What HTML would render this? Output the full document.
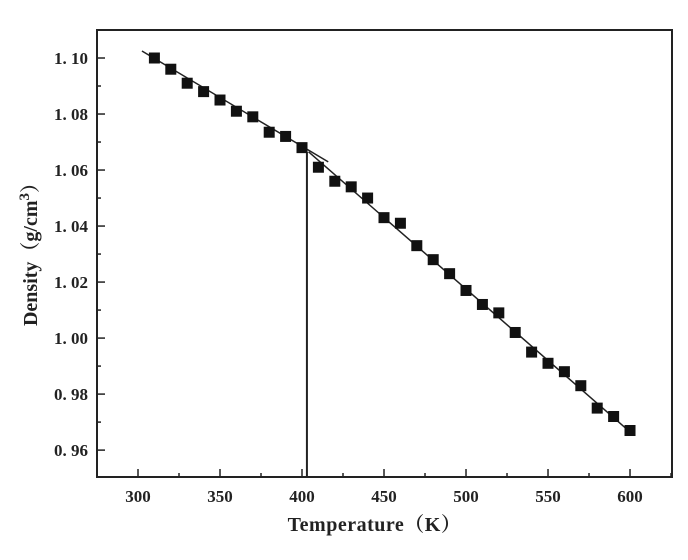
<!DOCTYPE html>
<html><head><meta charset="utf-8"><style>
html,body{margin:0;padding:0;background:#fff;}
svg text{font-family:"Liberation Serif","Noto Serif CJK SC",serif;font-weight:bold;fill:#222;}
</style></head><body>
<svg id="chart" width="688" height="555" xmlns="http://www.w3.org/2000/svg">
<g id="g"></g>
</svg>
<script>
const temperatures=[310,320,330,340,350,360,370,380,390,400,410,420,430,440,450,460,470,480,490,500,510,520,530,540,550,560,570,580,590,600];
const densities=[1.100,1.096,1.091,1.088,1.085,1.081,1.079,1.0735,1.072,1.068,1.061,1.056,1.054,1.050,1.043,1.041,1.033,1.028,1.023,1.017,1.012,1.009,1.002,0.995,0.991,0.988,0.983,0.975,0.972,0.967];
const fit1=[[302.4,1.1025],[416,1.0629]];
const fit2=[[404,1.0665],[600,0.9665]];
const transitionT=[403,1.0665];
const xTicks=[300,350,400,450,500,550,600];
const yTicks=[0.96,0.98,1.00,1.02,1.04,1.06,1.08,1.10];
const yTickLabels=["0. 96","0. 98","1. 00","1. 02","1. 04","1. 06","1. 08","1. 10"];

const L=97,R=672,T=30,B=477;
const xMin=275,xMax=625.6,yMin=0.9504,yMax=1.11;
const X=v=>L+(v-xMin)/(xMax-xMin)*(R-L);
const Y=v=>B-(v-yMin)/(yMax-yMin)*(B-T);
const g=document.getElementById('g');
const NS='http://www.w3.org/2000/svg';
function mk(tag,attrs,parent){const e=document.createElementNS(NS,tag);for(const k in attrs)e.setAttribute(k,attrs[k]);(parent||g).appendChild(e);return e;}

let e=mk('rect',{x:L,y:T,width:R-L,height:B-T,fill:'none',stroke:'#222','stroke-width':2});



xTicks.forEach((t,i)=>{
  let tk=mk('line',{x1:X(t),x2:X(t),y1:B,y2:B-8,stroke:'#222','stroke-width':1.5});
  
  
  let m=mk('line',{x1:X(t+25),x2:X(t+25),y1:B,y2:B-4,stroke:'#222','stroke-width':1.5});
  
  
  let lb=mk('text',{x:X(t),y:B+25,'text-anchor':'middle','font-size':17});
  lb.textContent=t;
  
  
});
yTicks.forEach((t,i)=>{
  let tk=mk('line',{x1:L,x2:L+8,y1:Y(t),y2:Y(t),stroke:'#222','stroke-width':1.5});
  
  
  let m=mk('line',{x1:L,x2:L+4,y1:Y(t+0.01),y2:Y(t+0.01),stroke:'#222','stroke-width':1.5});
  
  
  let lb=mk('text',{x:L-9,y:Y(t)+6,'text-anchor':'end','font-size':17});
  lb.textContent=yTickLabels[i];
  
  
});
[fit1,fit2].forEach((f,i)=>{
  let l=mk('line',{x1:X(f[0][0]),y1:Y(f[0][1]),x2:X(f[1][0]),y2:Y(f[1][1]),stroke:'#222','stroke-width':1.5});
  
  
});
let v=mk('line',{x1:X(transitionT[0]),y1:Y(transitionT[1]),x2:X(transitionT[0]),y2:B,stroke:'#222','stroke-width':2});


temperatures.forEach((t,i)=>{
  let p=mk('rect',{x:X(t)-5.5,y:Y(densities[i])-5.5,width:11,height:11,fill:'#111'});
  
  
});
let xt=mk('text',{x:(L+R)/2-10,y:531,'text-anchor':'middle','font-size':20,'letter-spacing':'0.5'});
xt.textContent='Temperature（K）';


let yt=mk('text',{x:0,y:0,'text-anchor':'middle','font-size':20,transform:'translate(37,'+((T+B)/2-4)+') rotate(-90)'});
yt.innerHTML='Density（g/cm<tspan dy="-8" font-size="15">3</tspan><tspan dy="8">）</tspan>';


</script>
</body></html>
